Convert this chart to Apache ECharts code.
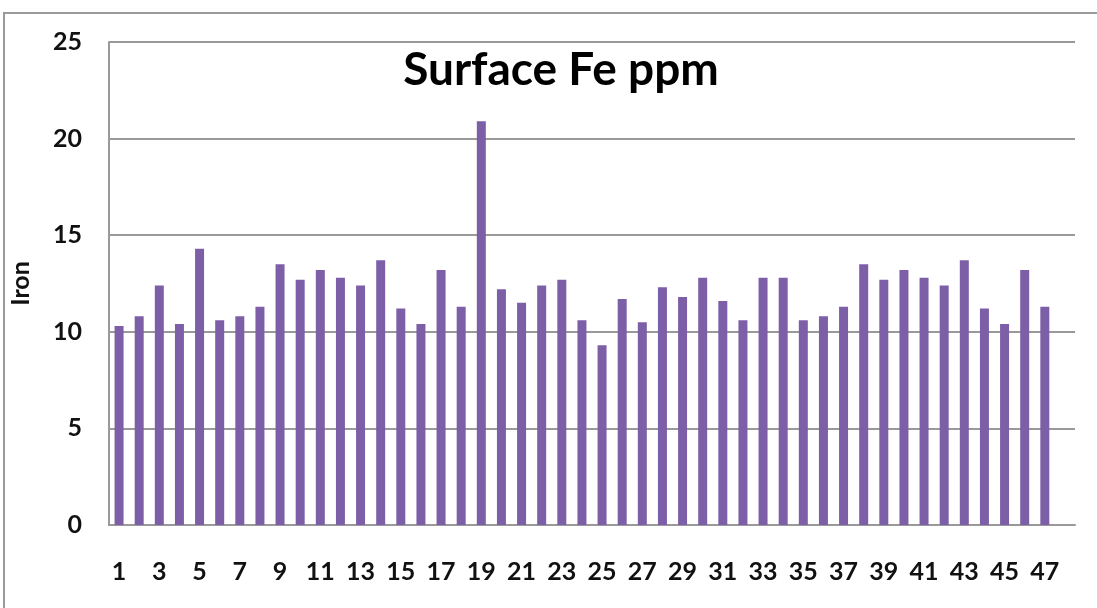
<!DOCTYPE html>
<html>
<head>
<meta charset="utf-8">
<script src="https://cdn.jsdelivr.net/npm/echarts@6/dist/echarts.min.js"></script>
<style>
  html, body { margin: 0; padding: 0; background: #fff; }
  #chart { width: 1097px; height: 608px; }
</style>
</head>
<body>
<div id="chart"></div>
<script>
// sample numbers 1..47
var samples = [];
for (var i = 1; i <= 47; i++) samples.push(String(i));

// surface iron, ppm
var ironValues = [
  10.3, 10.8, 12.4, 10.4, 14.3, 10.6, 10.8, 11.3, 13.5, 12.7,
  13.2, 12.8, 12.4, 13.7, 11.2, 10.4, 13.2, 11.3, 20.9, 12.2,
  11.5, 12.4, 12.7, 10.6, 9.3, 11.7, 10.5, 12.3, 11.8, 12.8,
  11.6, 10.6, 12.8, 12.8, 10.6, 10.8, 11.3, 13.5, 12.7, 13.2,
  12.8, 12.4, 13.7, 11.2, 10.4, 13.2, 11.3
];

var yTicks = [0, 5, 10, 15, 20, 25];

var labelFont = 'Lato, "Open Sans", sans-serif';

var myChart = echarts.init(document.getElementById('chart'));
var option = {
  animation: false,
  backgroundColor: '#fff',
  title: {
    text: 'Surface Fe ppm',
    left: 556,
    top: 42,
    textAlign: 'center',
    textStyle: {
      fontFamily: labelFont,
      fontWeight: 'bold',
      fontSize: 46,
      color: '#000'
    }
  },
  grid: { left: 106, right: 22, top: 42, bottom: 83 },
  xAxis: {
    type: 'category',
    data: samples,
    max: samples.length, // one empty slot at the right, as in the original
    axisLine: { lineStyle: { color: '#999', width: 2 } },
    axisTick: { show: false },
    axisLabel: {
      interval: 1,
      margin: 34,
      color: '#111',
      fontFamily: labelFont,
      fontWeight: 'bold',
      fontSize: 25
    }
  },
  yAxis: {
    type: 'value',
    min: yTicks[0],
    max: yTicks[yTicks.length - 1],
    interval: 5,
    name: 'Iron',
    nameLocation: 'middle',
    nameGap: 76,
    nameTextStyle: {
      color: '#111',
      fontFamily: labelFont,
      fontWeight: 'bold',
      fontSize: 25
    },
    axisLine: { show: true, lineStyle: { color: '#999', width: 2 } },
    axisTick: { show: false },
    splitLine: { lineStyle: { color: '#999', width: 2 } },
    axisLabel: {
      margin: 27,
      color: '#111',
      fontFamily: labelFont,
      fontWeight: 'bold',
      fontSize: 25
    }
  },
  graphic: [{
    type: 'rect',
    shape: { x: 4, y: 13, width: 1200, height: 700 },
    style: { fill: 'none', stroke: '#9a9a9a', lineWidth: 2 },
    silent: true
  }],
  series: [{
    type: 'bar',
    data: ironValues,
    barWidth: 9,
    itemStyle: { color: '#7d5fa8' }
  }]
};
myChart.setOption(option);
</script>
</body>
</html>
